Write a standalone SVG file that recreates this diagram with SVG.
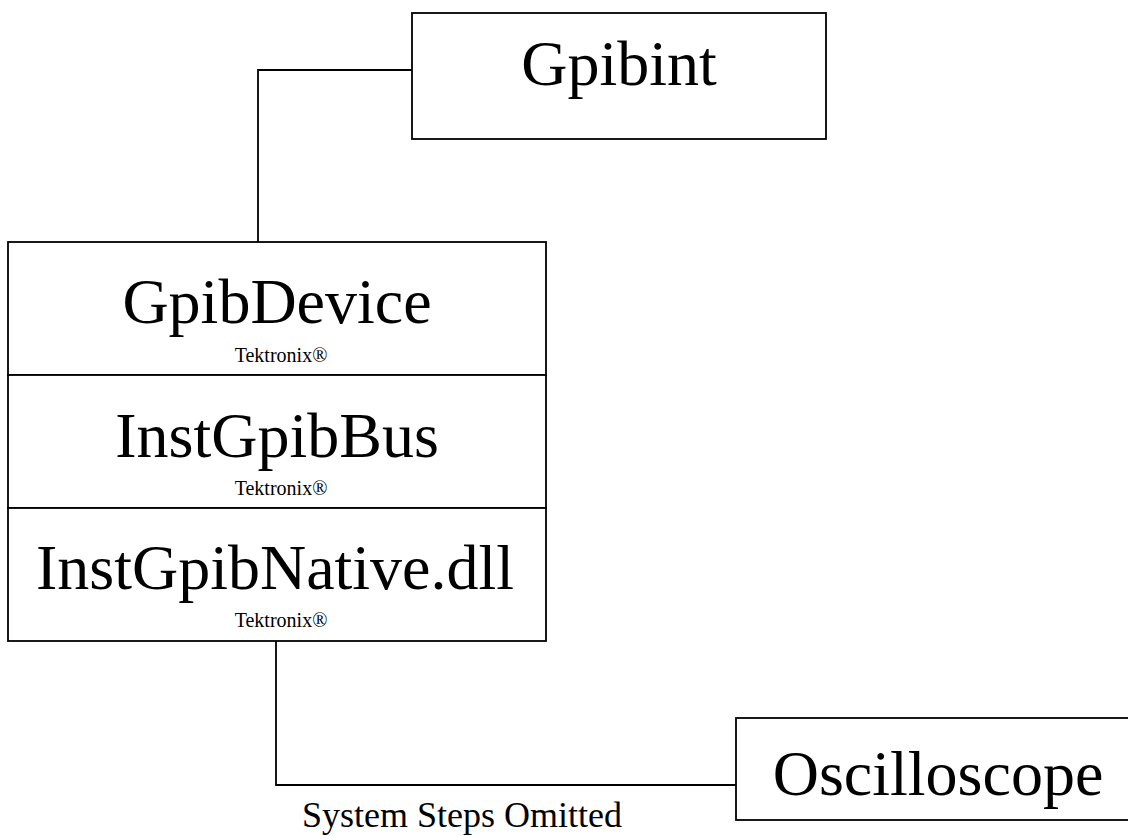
<svg xmlns="http://www.w3.org/2000/svg" width="1128" height="836" viewBox="0 0 1128 836">
<style>
.box{fill:#fff;stroke:#000;stroke-width:1.8}
.conn{fill:none;stroke:#000;stroke-width:1.8}
.t{font-family:"Liberation Serif","Times New Roman",serif;font-size:64px;fill:#000;text-anchor:middle}
.s{font-family:"Liberation Serif","Times New Roman",serif;font-size:20px;fill:#000;text-anchor:middle}
.c{font-family:"Liberation Serif","Times New Roman",serif;font-size:36px;fill:#000;text-anchor:middle}
</style>
<rect width="1128" height="836" fill="#fff"/>
<g id="connectors">
<polyline class="conn" points="412,70 258,70 258,242"/>
<polyline class="conn" points="276,641 276,785 736,785"/>
</g>
<g id="gpibint">
<rect class="box" x="412" y="13" width="414" height="126"/>
<text class="t" x="619" y="85">Gpibint</text>
</g>
<g id="gpibdevice">
<rect class="box" x="8" y="242" width="538" height="133"/>
<text class="t" x="277" y="323">GpibDevice</text>
<text class="s" x="281" y="362">Tektronix®</text>
</g>
<g id="instgpibbus">
<rect class="box" x="8" y="375" width="538" height="133"/>
<text class="t" x="277" y="457">InstGpibBus</text>
<text class="s" x="281" y="495">Tektronix®</text>
</g>
<g id="instgpibnative">
<rect class="box" x="8" y="508" width="538" height="133"/>
<text class="t" x="275" y="589">InstGpibNative.dll</text>
<text class="s" x="281" y="627">Tektronix®</text>
</g>
<g id="oscilloscope">
<rect class="box" x="736" y="718" width="400" height="102"/>
<text class="t" x="938" y="795">Oscilloscope</text>
</g>
<text class="c" x="462" y="827">System Steps Omitted</text>
</svg>
